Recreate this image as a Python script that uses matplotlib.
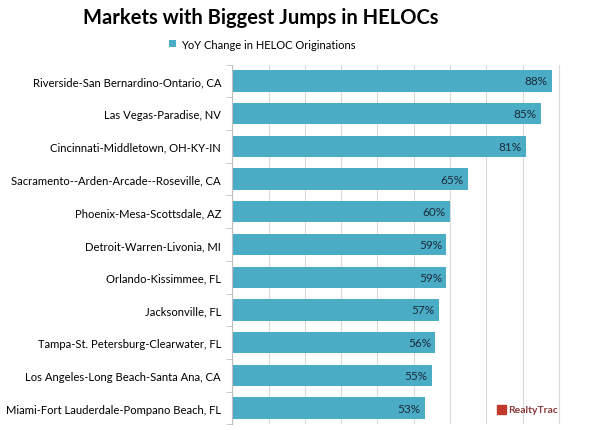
import matplotlib
matplotlib.use('Agg')
from matplotlib import pyplot as plt
from matplotlib.patches import Rectangle

# Data.
markets = [
    'Riverside-San Bernardino-Ontario, CA',
    'Las Vegas-Paradise, NV',
    'Cincinnati-Middletown, OH-KY-IN',
    'Sacramento--Arden-Arcade--Roseville, CA',
    'Phoenix-Mesa-Scottsdale, AZ',
    'Detroit-Warren-Livonia, MI',
    'Orlando-Kissimmee, FL',
    'Jacksonville, FL',
    'Tampa-St. Petersburg-Clearwater, FL',
    'Los Angeles-Long Beach-Santa Ana, CA',
    'Miami-Fort Lauderdale-Pompano Beach, FL',
]
changes = [88, 85, 81, 65, 60, 59, 59, 57, 56, 55, 53]

plt.rcParams['font.family'] = ['Lato', 'DejaVu Sans']

fig = plt.figure(dpi=100, figsize=(6, 4.31))
ax = fig.add_axes([0.387, 0.013, 0.605, 0.835])

bar_color = '#4BACC6'
pos = list(range(len(markets)))
ax.barh(pos, changes, height=0.65, color=bar_color, zorder=2,
        label='YoY Change in HELOC Originations')

for p, v in zip(pos, changes):
    ax.text(v - 1.2, p, f'{v}%', ha='right', va='center',
            fontsize=8.5, color='#1b2a3a', zorder=3)

# Format axes.
ax.set_xlim(0, 100)
ax.set_ylim(len(markets) - 0.5, -0.5)
ax.set_xticks(range(0, 101, 10))
ax.xaxis.grid(True, color='#d9d9d9', linewidth=0.8, zorder=0)
ax.tick_params(axis='x', length=0, labelbottom=False)
ax.set_yticks(pos)
ax.set_yticklabels(markets, fontsize=8.1)
ax.tick_params(axis='y', length=0, pad=8)
ax.set_yticks([p - 0.5 for p in pos] + [len(markets) - 0.5], minor=True)
ax.tick_params(axis='y', which='minor', length=4, color='#bfbfbf')
for s in ['top', 'right', 'bottom']:
    ax.spines[s].set_visible(False)
ax.spines['left'].set_color('#bfbfbf')

fig.text(0.435, 0.958, 'Markets with Biggest Jumps in HELOCs',
         ha='center', va='center', fontsize=14.5, fontweight='bold')
fig.legend(loc='center', bbox_to_anchor=(0.437, 0.895), frameon=False,
           fontsize=8, handlelength=0.6, handleheight=0.6, handletextpad=0.5)

# RealtyTrac mark.
fig.patches.append(Rectangle((0.828, 0.037), 0.016, 0.022,
                             transform=fig.transFigure, color='#c0392b'))
fig.text(0.847, 0.048, 'RealtyTrac', ha='left', va='center',
         fontsize=7.5, fontweight='bold', color='#8a3a3a')

fig.savefig('out.png', dpi=100)
